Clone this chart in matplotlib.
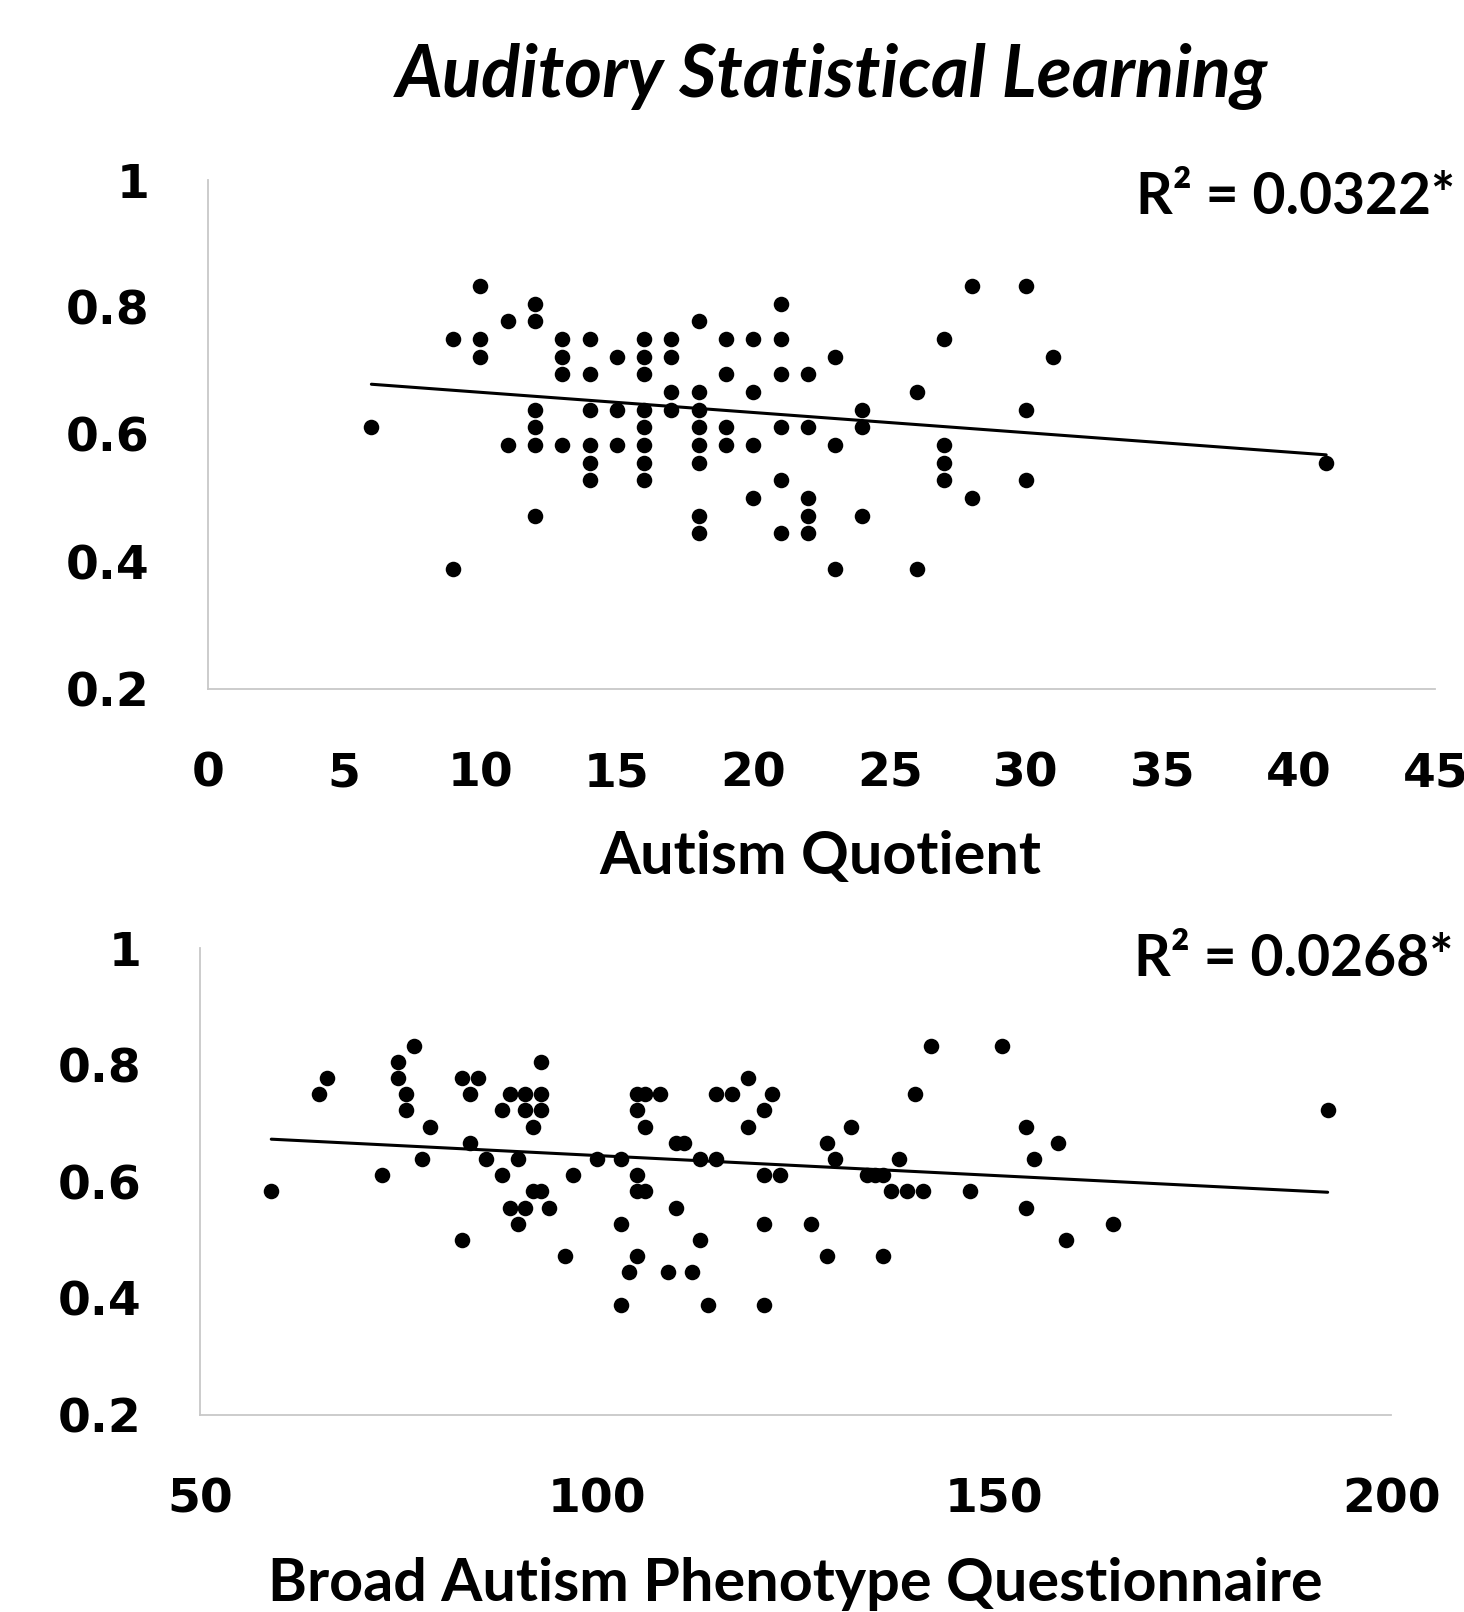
import numpy as np
import matplotlib
matplotlib.use("Agg")
import matplotlib.pyplot as plt

# ---------------- data ----------------
# Top panel: Autism Quotient vs accuracy (k/36 correct)
aq_x = [10, 12, 11, 12, 9, 10, 13, 14, 10, 13, 13, 14, 12, 14, 6, 12, 11, 12, 13, 14, 14, 14, 12, 9,
        28, 30, 21, 18, 16, 17, 19, 20, 21, 27, 15, 16, 17, 23, 31, 16, 19, 21, 22, 17, 18, 20, 26,
        15, 16, 17, 18, 24, 30, 16, 18, 19, 21, 22, 24, 15, 16, 18, 19, 20, 23, 27, 16, 18, 27,
        16, 21, 27, 30, 20, 22, 28, 18, 22, 24, 18, 21, 22, 23, 26, 41]
aq_k = [30, 29, 28, 28, 27, 27, 27, 27, 26, 26, 25, 25, 23, 23, 22, 22, 21, 21, 21, 21, 20, 19, 17, 14,
        30, 30, 29, 28, 27, 27, 27, 27, 27, 27, 26, 26, 26, 26, 26, 25, 25, 25, 25, 24, 24, 24, 24,
        23, 23, 23, 23, 23, 23, 22, 22, 22, 22, 22, 22, 21, 21, 21, 21, 21, 21, 21, 20, 20, 20,
        19, 19, 19, 19, 18, 18, 18, 17, 17, 17, 16, 16, 16, 14, 14, 20]

# Bottom panel: Broad Autism Phenotype Questionnaire vs accuracy (k/36 correct)
bapq_x = [59, 66, 65, 77, 75, 75, 76, 76, 79, 73, 78, 83, 85, 84, 84, 83, 86, 88, 90, 89, 88, 91, 91,
          93, 93, 93, 92, 92, 93, 89, 91, 94, 90, 96, 97, 100,
          103, 103, 103, 104,
          105, 106, 108, 105, 106, 110, 111, 113, 115, 105, 105, 106, 110, 105, 109, 112, 113, 114,
          115, 117, 119, 122, 121, 119, 121, 123, 121, 121, 127, 129, 130, 129, 132, 134, 135, 136,
          136, 137, 138, 139, 140, 141, 142, 147, 151, 154, 154, 155,
          158, 159, 165, 192]
bapq_k = [21, 28, 27, 30, 29, 28, 27, 26, 25, 22, 23, 28, 28, 27, 24, 18, 23, 22, 23, 27, 26, 27, 26,
          29, 27, 26, 25, 21, 21, 20, 20, 20, 19, 17, 22, 23,
          23, 19, 14, 16,
          27, 27, 27, 26, 25, 24, 24, 23, 23, 22, 21, 21, 20, 17, 16, 16, 18, 14,
          27, 27, 28, 27, 26, 25, 22, 22, 19, 14, 19, 24, 23, 17, 25, 22, 22, 22,
          17, 21, 23, 21, 27, 21, 30, 21, 30, 25, 20, 23,
          24, 18, 19, 26]

n_items = 36

# Linear trendlines as drawn in the picture: (x_start, x_end), (y_start, y_end)
trend_top_x = [6, 41]
trend_top_y = [0.679, 0.568]
trend_bottom_x = [59, 192]
trend_bottom_y = [0.673, 0.582]

title = "Auditory Statistical Learning"
xlabel_top = "Autism Quotient"
xlabel_bottom = "Broad Autism Phenotype Questionnaire"
r2_top = "R² = 0.0322*"
r2_bottom = "R² = 0.0268*"
yticks = [0.2, 0.4, 0.6, 0.8, 1.0]
ytick_labels = ["0.2", "0.4", "0.6", "0.8", "1"]
xticks_top = [0, 5, 10, 15, 20, 25, 30, 35, 40, 45]
xticks_bottom = [50, 100, 150, 200]

# ---------------- figure ----------------
W, H = 1464, 1612
fig = plt.figure(figsize=(W / 100, H / 100), dpi=100)
fig.patch.set_facecolor("white")

label_font = "Lato"
tick_font = "DejaVu Sans"
spine_col = "#c8c8c8"


def panel(rect, xs, ks, xlim, xticks, tx, ty, r2text, r2pos, xlabel, xlabel_pos):
    ax = fig.add_axes(rect)
    xs = np.asarray(xs, float)
    ys = np.asarray(ks, float) / n_items
    ax.scatter(xs, ys, s=125, color="black", linewidths=0, zorder=3)
    ax.plot(tx, ty, color="black", lw=2.2, solid_capstyle="round", zorder=2)
    ax.set_xlim(*xlim)
    ax.set_ylim(0.2, 1.0)
    ax.set_xticks(xticks)
    ax.set_xticklabels([str(t) for t in xticks])
    ax.set_yticks(yticks)
    ax.set_yticklabels(ytick_labels)
    for s in ["top", "right"]:
        ax.spines[s].set_visible(False)
    for s in ["left", "bottom"]:
        ax.spines[s].set_color(spine_col)
        ax.spines[s].set_linewidth(1.3)
    ax.tick_params(axis="both", length=0)
    ax.tick_params(axis="y", pad=42)
    ax.tick_params(axis="x", pad=45)
    for lab in ax.get_xticklabels() + ax.get_yticklabels():
        lab.set_fontfamily(tick_font)
        lab.set_fontweight("bold")
        lab.set_fontsize(34)
    for lab in ax.get_xticklabels():
        lab.set_clip_on(False)
    fig.text(r2pos[0] / W, 1 - r2pos[1] / H, r2text, ha="right", va="center",
             fontsize=41, fontweight="bold", family=label_font)
    fig.text(xlabel_pos[0] / W, 1 - xlabel_pos[1] / H, xlabel, ha="center", va="center",
             fontsize=42.7, fontweight="bold", family=label_font)
    return ax


# top panel: x 0..45 -> px 207.7..1435 ; y 0.2..1 -> px 689..180
panel([207.7 / W, 1 - 689 / H, (1435.3 - 207.7) / W, (689 - 180) / H],
      aq_x, aq_k, (0, 45), xticks_top, trend_top_x, trend_top_y,
      r2_top, (1455, 198), xlabel_top, (820, 857))

# bottom panel: x 50..200 -> px 199.8..1391 ; y 0.2..1 -> px 1415..948.5
panel([199.8 / W, 1 - 1415 / H, (1391.2 - 199.8) / W, (1415 - 948.5) / H],
      bapq_x, bapq_k, (50, 200), xticks_bottom, trend_bottom_x, trend_bottom_y,
      r2_bottom, (1453, 959), xlabel_bottom, (795, 1584))

fig.text(832 / W, 1 - 76 / H, title, ha="center", va="center", fontsize=52,
         fontweight="bold", fontstyle="italic", family=label_font)

fig.savefig("out.png", dpi=100, facecolor="white")
